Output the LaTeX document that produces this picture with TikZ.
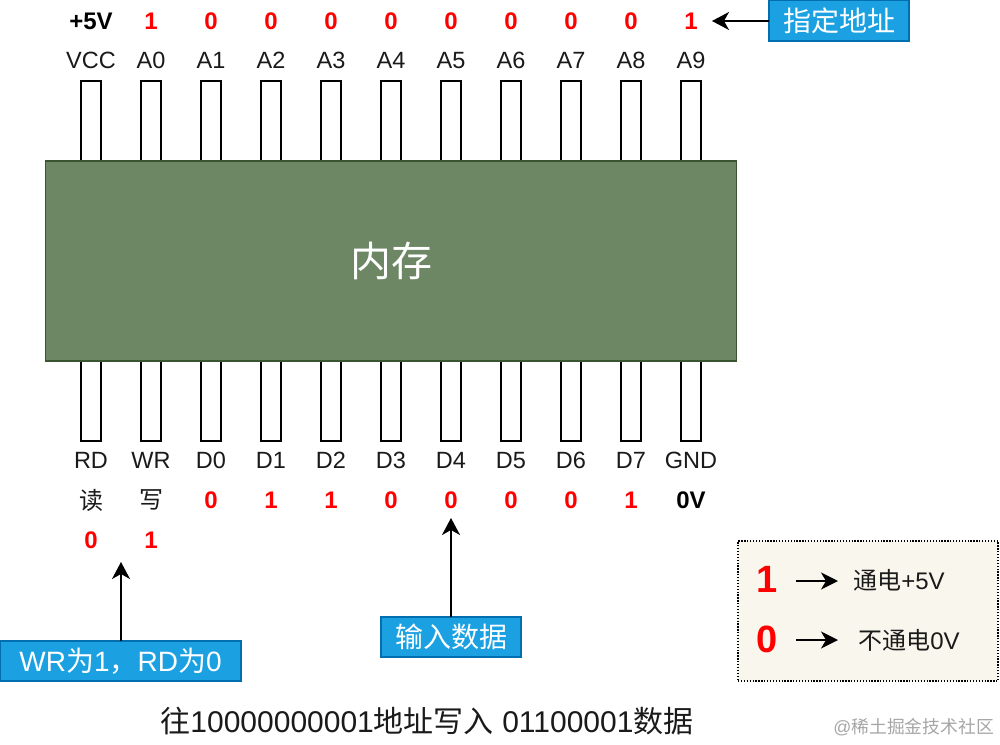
\documentclass[tikz,border=0pt]{standalone}
\usepackage{fontspec}
\setmainfont{Liberation Sans}
\newfontfamily\cjk{Noto Sans CJK SC}
\usetikzlibrary{arrows.meta}
\newcommand{\fs}[1]{\fontsize{#1}{#1}\selectfont}
\tikzset{
  pin/.style={draw=black,line width=1.6pt,fill=white,minimum width=20pt,minimum height=80pt,inner sep=0pt,outer sep=0pt},
  chip/.style={draw=chipedge,line width=1.2pt,fill=chipfill,inner sep=0pt,outer sep=0pt,minimum width=691pt,minimum height=200pt,text=white},
  lbl/.style={inner sep=0pt,font=\fs{23.5},text=labelc,text height=16.8pt,text depth=0pt},
  redv/.style={inner sep=0pt,font=\fs{24}\bfseries,text=red,text height=17.2pt,text depth=0pt},
  blkv/.style={inner sep=0pt,font=\fs{24}\bfseries,text=black,text height=17.2pt,text depth=0pt},
  callout/.style={draw=bluedge,line width=1.5pt,fill=bluefill,text=white,inner sep=0pt,outer sep=0pt,font=\fs{28}},
  arr/.style={draw=black,line width=1.7pt,-{Stealth[length=17pt,width=18pt,inset=5pt]}},
  smallarr/.style={draw=black,line width=1.5pt,-{Stealth[length=17pt,width=17pt,inset=5pt]}},
}
\definecolor{chipfill}{HTML}{6D8764}
\definecolor{chipedge}{HTML}{3A5431}
\definecolor{bluefill}{HTML}{1BA1E2}
\definecolor{bluedge}{HTML}{006EAF}
\definecolor{legfill}{HTML}{F9F7ED}
\definecolor{labelc}{HTML}{1A1A1A}
\begin{document}
\begin{tikzpicture}[x=1pt,y=-1pt]
\useasboundingbox[fill=white] (0,0) rectangle (1000,744);
% pins
\foreach \i/\b [count=\n from 0] in {VCC/RD,A0/WR,A1/D0,A2/D1,A3/D2,A4/D3,A5/D4,A6/D5,A7/D6,A8/D7,A9/GND}{
  \pgfmathsetmacro{\px}{91+60*\n}
  \node[pin] (top\n) at (\px,121) {};
  \node[pin] (bot\n) at (\px,401) {};
  \node[lbl] (tl\n) at (\px,60) {\i};
  \node[lbl] (bl\n) at (\px,460) {\b};
}
\node[chip] (mem) at (391,261) {\fs{41}\cjk 内存};
% top values
\node[blkv] (v5) at (91,20.5) {+5V};
\foreach \v [count=\n from 1] in {1,0,0,0,0,0,0,0,0,1}{
  \pgfmathsetmacro{\px}{91+60*\n}
  \node[redv] (tv\n) at (\px,20.5) {\v};
}
% bottom values
\node[inner sep=0pt,font=\fs{24}\cjk,text=labelc] (rdz) at (91,500) {读};
\node[inner sep=0pt,font=\fs{24}\cjk,text=labelc] (wrz) at (151,500) {写};
\foreach \v [count=\n from 2] in {0,1,1,0,0,0,0,1}{
  \pgfmathsetmacro{\px}{91+60*\n}
  \node[redv] (bv\n) at (\px,500) {\v};
}
\node[blkv] (zv) at (691,500) {0V};
\node[redv] (rdv) at (91,540) {0};
\node[redv] (wrv) at (151,540) {1};
% callouts
\node[callout,minimum width=140pt,minimum height=41pt] (addr) at (839,20.5) {\cjk 指定地址};
\node[callout,minimum width=140pt,minimum height=40pt] (indata) at (451,637) {\cjk 输入数据};
\node[callout,minimum width=241pt,minimum height=40pt] (wrbox) at (120.5,661) {WR{\cjk 为}1{\cjk ，}RD{\cjk 为}0};
\coordinate (wrtip) at (121,562);
\coordinate (dtip) at (451,518);
\coordinate (atip) at (712,21);
\draw[arr] (addr.west |- atip) -- (atip);
\draw[arr] (indata.north) -- (dtip);
\draw[arr] (wrbox.north -| wrtip) -- (wrtip);
% legend
\node[draw=black,line width=1.1pt,dash pattern=on 1.3pt off 1.6pt,fill=legfill,minimum width=260pt,minimum height=140pt,inner sep=0pt,outer sep=0pt] (legend) at (868,611) {};
\node[inner sep=0pt,font=\fs{38}\bfseries,text=red] (l1) at (767,579) {1};
\node[inner sep=0pt,font=\fs{38}\bfseries,text=red] (l0) at (767,639) {0};
\coordinate (a1s) at (796,581);
\coordinate (a1e) at (838,581);
\coordinate (a0s) at (796,640);
\coordinate (a0e) at (838,640);
\draw[smallarr] (a1s) -- (a1e);
\draw[smallarr] (a0s) -- (a0e);
\node[inner sep=0pt,font=\fs{24},text=labelc] (t1) at (899,580) {{\cjk 通电}+5V};
\node[inner sep=0pt,font=\fs{24},text=labelc] (t0) at (909,640) {{\cjk 不通电}0V};
% caption and mark
\node[inner sep=0pt,font=\fs{30},text=labelc] (cap) at (427,721.5) {{\cjk 往}10000000001{\cjk 地址写入} 01100001{\cjk 数据}};
\node[inner sep=0pt,font=\fs{17.8},text=black!35,anchor=east] (mark) at (994,727) {@{\cjk 稀土掘金技术社区}};
\end{tikzpicture}
\end{document}
